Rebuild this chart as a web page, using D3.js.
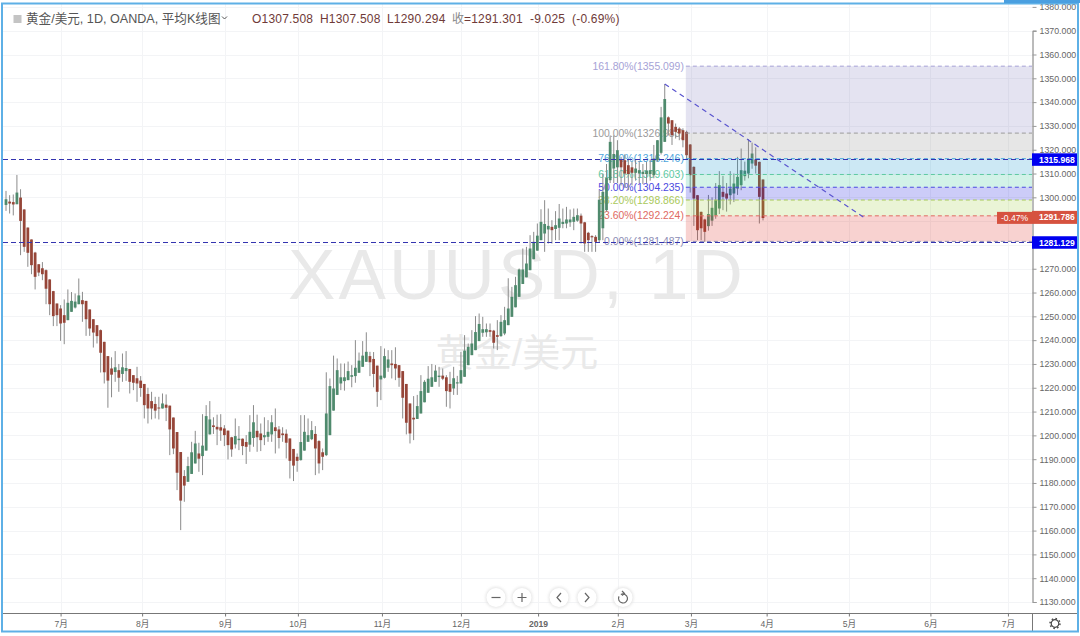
<!DOCTYPE html>
<html>
<head>
<meta charset="utf-8">
<script src="https://cdn.jsdelivr.net/npm/d3@7"></script>
<style>
  html, body { margin: 0; padding: 0; background: #fff; }
  svg { display: block; }
  text { font-family: "Liberation Sans", "Noto Sans CJK SC", sans-serif; }
</style>
</head>
<body>
<svg id="chart"></svg>
<script>
// daily candles (bar number = trading day)
var opens = [
  1296.8,1298.2,1298.0,1297.1,1299.9,1294.9,1287.3,1282.3,1276.8,1271.9,
  1270.2,1269.4,1265.5,1260.6,1255.4,1253.3,1250.5,1248.4,1251.9,1253.7,
  1255.1,1256.8,1256.5,1252.9,1248.8,1246.3,1244.2,1239.3,1233.3,1228.1,
  1226.6,1227.4,1225.8,1227.0,1227.9,1225.3,1224.0,1223.0,1221.6,1217.4,
  1214.4,1213.2,1211.7,1211.3,1212.9,1212.5,1207.5,1201.4,1193.0,1182.9,
  1180.5,1183.8,1188.2,1192.4,1191.3,1193.6,1200.4,1204.2,1203.6,1203.4,
  1202.9,1202.0,1199.2,1196.2,1198.0,1198.6,1197.2,1196.1,1198.9,1201.9,
  1200.8,1199.2,1199.4,1200.4,1203.4,1202.5,1200.8,1200.7,1198.7,1194.3,
  1191.0,1189.6,1193.6,1197.3,1198.4,1200.6,1197.6,1192.9,1191.7,1200.1,
  1210.4,1217.0,1221.8,1222.8,1223.2,1224.6,1224.9,1226.3,1228.8,1230.9,
  1233.3,1232.1,1229.3,1223.5,1224.2,1228.4,1230.2,1230.0,1229.5,1227.0,
  1221.6,1213.4,1207.4,1206.9,1209.2,1213.9,1217.9,1220.4,1222.5,1224.5,
  1225.1,1224.4,1221.6,1219.7,1221.8,1221.8,1224.6,1229.5,1233.7,1235.8,
  1239.6,1243.1,1243.3,1244.2,1244.0,1242.1,1241.7,1242.8,1246.3,1249.8,
  1253.8,1258.2,1263.6,1266.4,1269.4,1274.0,1277.6,1282.0,1284.8,1286.5,
  1287.6,1286.7,1287.2,1288.8,1289.0,1289.5,1289.7,1290.2,1292.3,1289.5,
  1285.1,1283.7,1283.4,1282.0,1287.0,1294.6,1307.2,1312.1,1312.6,1315.9,
  1315.6,1313.5,1312.6,1310.3,1310.0,1309.8,1309.8,1309.8,1309.3,1315.6,
  1318.7,1323.3,1333.6,1332.4,1329.6,1328.9,1328.2,1327.5,1322.2,1312.8,
  1300.9,1293.9,1290.7,1287.9,1290.2,1292.5,1295.3,1302.3,1301.6,1300.9,
  1301.6,1303.7,1305.1,1308.9,1310.0,1314.2,1315.9,1314.9,1307.5];

var highs = [
  1302.7,1300.9,1301.2,1309.4,1303.4,1295.0,1287.3,1282.3,1277.1,1271.9,
  1272.8,1269.7,1265.6,1260.7,1255.4,1254.7,1257.1,1261.3,1260.2,1259.6,
  1265.9,1260.3,1256.5,1252.9,1248.8,1246.3,1244.5,1239.3,1233.3,1232.8,
  1235.4,1230.0,1234.4,1235.4,1227.9,1225.3,1228.8,1224.9,1221.6,1220.0,
  1218.3,1216.2,1216.2,1217.6,1217.2,1212.5,1207.5,1201.4,1193.0,1185.4,
  1191.0,1197.3,1201.9,1196.9,1208.9,1212.7,1214.4,1207.6,1208.7,1208.9,
  1204.3,1202.0,1199.4,1207.1,1203.9,1198.7,1200.1,1208.5,1212.7,1208.7,
  1205.0,1207.6,1206.4,1208.5,1211.3,1203.9,1203.4,1202.5,1198.7,1194.3,
  1192.4,1208.5,1208.5,1207.1,1206.0,1203.9,1198.0,1194.5,1226.5,1223.9,
  1233.5,1232.3,1230.2,1230.2,1231.0,1229.5,1240.0,1234.8,1239.6,1243.3,
  1235.1,1235.0,1229.3,1237.5,1236.5,1235.8,1235.8,1237.0,1229.5,1227.0,
  1221.6,1213.4,1216.5,1217.0,1225.3,1223.2,1229.1,1230.0,1229.5,1228.8,
  1228.1,1225.3,1226.7,1228.8,1225.0,1235.1,1242.1,1238.6,1244.2,1250.1,
  1251.2,1249.8,1247.0,1247.0,1244.3,1248.4,1250.5,1254.0,1266.0,1262.4,
  1266.6,1270.1,1278.5,1279.2,1284.1,1285.5,1289.0,1295.0,1298.8,1295.3,
  1290.4,1294.2,1297.2,1295.3,1296.0,1294.9,1295.3,1295.3,1293.2,1289.7,
  1285.5,1284.1,1284.1,1303.0,1310.0,1314.0,1326.0,1326.0,1324.0,1317.0,
  1318.0,1316.0,1315.0,1316.0,1315.0,1314.0,1315.0,1316.0,1322.0,1324.0,
  1338.0,1347.6,1334.0,1332.4,1331.0,1329.5,1329.0,1328.0,1322.4,1313.0,
  1301.0,1294.0,1291.0,1301.0,1300.0,1306.0,1311.0,1309.0,1306.0,1311.0,
  1310.0,1317.0,1320.5,1315.0,1324.5,1323.0,1321.0,1315.0,1307.5];

var lows = [
  1294.3,1293.2,1292.4,1297.1,1275.7,1277.1,1270.8,1267.7,1261.3,1266.9,
  1265.2,1255.1,1250.5,1245.9,1245.9,1239.7,1238.3,1248.4,1251.9,1253.3,
  1255.1,1247.7,1241.8,1241.8,1236.9,1238.6,1226.4,1221.8,1211.6,1216.0,
  1222.5,1218.3,1222.5,1222.9,1217.6,1219.0,1214.1,1216.2,1207.1,1205.0,
  1206.7,1207.1,1206.7,1211.3,1206.0,1191.7,1192.1,1177.0,1160.2,1172.1,
  1180.5,1183.8,1188.2,1184.7,1183.3,1193.6,1200.4,1200.6,1195.9,1197.7,
  1195.5,1189.9,1191.0,1194.5,1193.8,1191.7,1188.0,1193.1,1195.2,1193.1,
  1193.4,1195.9,1197.3,1197.3,1192.4,1194.5,1197.3,1190.3,1181.9,1180.8,
  1184.7,1189.4,1193.6,1197.3,1198.0,1183.3,1184.0,1185.4,1191.3,1200.1,
  1210.4,1217.0,1219.0,1218.8,1223.2,1220.2,1222.1,1226.3,1228.8,1230.9,
  1224.9,1220.2,1212.0,1214.8,1223.9,1226.7,1223.9,1223.2,1220.4,1207.1,
  1200.4,1196.6,1198.0,1206.9,1209.2,1213.9,1217.9,1220.4,1222.5,1220.4,
  1223.2,1212.0,1211.3,1217.0,1217.0,1221.8,1224.6,1229.5,1233.7,1235.8,
  1239.6,1241.4,1241.4,1241.4,1236.5,1235.8,1241.4,1242.1,1246.3,1249.8,
  1253.8,1258.2,1263.6,1266.4,1269.4,1274.0,1277.6,1282.0,1277.1,1280.6,
  1280.6,1282.0,1282.0,1287.0,1287.0,1287.6,1286.2,1289.7,1280.6,1277.1,
  1277.1,1277.1,1277.1,1281.0,1282.0,1294.0,1306.0,1306.0,1306.0,1305.0,
  1304.0,1303.0,1305.0,1307.0,1306.0,1305.6,1306.0,1307.0,1308.0,1315.0,
  1318.0,1323.3,1326.0,1322.0,1324.7,1324.0,1321.0,1316.0,1302.0,1288.0,
  1282.0,1282.0,1281.2,1286.0,1288.0,1291.0,1293.0,1294.6,1294.0,1297.0,
  1298.0,1301.0,1303.0,1307.0,1308.0,1312.0,1310.0,1289.0,1290.3];

var closes = [
  1299.2,1297.4,1297.0,1302.0,1290.1,1279.2,1276.7,1271.5,1266.6,1268.4,
  1267.7,1261.6,1255.1,1250.1,1250.5,1247.0,1247.3,1255.7,1256.5,1256.2,
  1258.8,1255.1,1248.8,1244.9,1243.2,1241.7,1234.7,1226.5,1223.0,1225.5,
  1228.6,1224.2,1228.6,1228.3,1222.5,1222.1,1221.8,1219.9,1212.7,1211.3,
  1211.3,1210.4,1211.5,1213.4,1211.6,1202.5,1194.5,1184.3,1172.6,1178.9,
  1187.1,1192.9,1196.6,1190.2,1195.7,1208.1,1206.7,1203.5,1202.5,1202.0,
  1200.1,1195.9,1194.1,1199.7,1198.6,1195.5,1195.2,1201.5,1205.5,1199.2,
  1198.0,1200.1,1201.5,1205.5,1201.8,1198.9,1200.1,1196.9,1189.3,1187.3,
  1189.3,1197.2,1201.5,1200.1,1202.2,1194.5,1188.2,1191.0,1209.2,1220.7,
  1219.7,1227.4,1224.4,1224.4,1227.0,1225.3,1228.4,1231.4,1233.5,1235.1,
  1230.7,1225.8,1218.3,1225.1,1233.3,1231.9,1229.5,1228.1,1224.2,1215.8,
  1205.3,1200.8,1206.7,1212.3,1218.6,1222.5,1223.8,1224.4,1227.2,1225.1,
  1223.8,1218.6,1218.3,1224.0,1222.3,1227.4,1235.6,1237.2,1238.6,1243.4,
  1246.8,1244.6,1244.6,1243.5,1238.9,1241.4,1247.7,1248.4,1253.3,1258.2,
  1263.1,1269.7,1269.7,1272.2,1278.5,1281.3,1283.9,1289.7,1288.8,1288.0,
  1286.2,1288.3,1291.1,1289.7,1290.7,1290.7,1291.8,1292.5,1289.0,1280.6,
  1282.0,1283.2,1281.3,1299.0,1302.3,1308.1,1323.3,1318.2,1319.8,1312.6,
  1310.0,1309.8,1310.3,1312.1,1311.4,1310.7,1311.2,1311.4,1316.3,1324.0,
  1333.6,1341.3,1331.0,1326.1,1327.5,1326.8,1324.0,1317.7,1309.3,1299.5,
  1286.2,1287.0,1285.5,1293.0,1295.6,1298.8,1305.1,1300.2,1299.5,1303.7,
  1305.8,1308.6,1311.4,1311.2,1316.3,1318.4,1313.3,1300.2,1291.3];

// axis labels (1280 and 1290 are hidden behind the price tags in the original)
var priceTicks = d3.range(1130, 1381, 10);
var priceLabels = priceTicks.filter(function(d) { return d !== 1280 && d !== 1290; });
var monthLabels = ["7月", "8月", "9月", "10月", "11月", "12月", "2019", "2月", "3月", "4月", "5月", "6月", "7月"];
var monthBars = [15, 37.4, 60.2, 80.2, 103.3, 125, 146.2, 168.1, 188.2, 209, 231.6, 254, 275.3];

// fibonacci retracement
var fibRatios = ["161.80%", "100.00%", "76.40%", "61.80%", "50.00%", "38.20%", "23.60%", "0.00%"];
var fibPrices = [1355.099, 1326.983, 1316.246, 1309.603, 1304.235, 1298.866, 1292.224, 1281.487];
var fibColors = ["#a6a2d6", "#9a9a9a", "#4ea6dc", "#5ec9a2", "#4a4ae0", "#a9c95a", "#e06a62", "#8c8cb4"];
var fibFills = ["rgba(120,115,185,0.2)", "rgba(128,128,128,0.2)", "rgba(0,140,200,0.2)", "rgba(30,190,140,0.2)",
  "rgba(0,0,220,0.2)", "rgba(150,200,50,0.2)", "rgba(220,30,20,0.2)"];
var fibStartBar = 186.8;

// drawn lines and price tags
var alertPrices = [1315.968, 1281.129];
var lastPrice = 1291.786;
var lastChange = "-0.47%";
var trendBars = [181, 236];
var trendPrices = [1347.6, 1291.3];

// header
var headerTitle = "黄金/美元, 1D, OANDA, 平均K线图";
var headerOHLC = [["O1307.508", 252], ["H1307.508", 320], ["L1290.294", 387]];

// set the dimensions of the graph
var width = 1080,
    height = 636,
    plotRight = 1032,
    plotBottom = 613;

var greenBody = "#4f8a6d", redBody = "#964538", wickColor = "#8b8b8b";

// set the ranges
var x = d3.scaleLinear().domain([0, 208]).range([6, 763]);
var y = d3.scaleLinear().domain([1130, 1370]).range([602, 30.7]);
var barW = (x(1) - x(0)) * 0.76;

var svg = d3.select("#chart").attr("width", width).attr("height", height);

// grid
var grid = svg.append("g").attr("stroke", "#f3f4f6").attr("stroke-width", 1);
grid.selectAll(".gy").data(priceTicks).enter().append("line")
    .attr("x1", 3).attr("x2", plotRight)
    .attr("y1", function(d) { return Math.round(y(d)) + 0.5; })
    .attr("y2", function(d) { return Math.round(y(d)) + 0.5; });
grid.selectAll(".gx").data(monthBars).enter().append("line")
    .attr("y1", 4).attr("y2", plotBottom)
    .attr("x1", function(d) { return Math.round(x(d)) + 0.5; })
    .attr("x2", function(d) { return Math.round(x(d)) + 0.5; });

// watermark
svg.append("text").attr("x", 517).attr("y", 299)
    .attr("text-anchor", "middle").attr("font-size", 71).attr("letter-spacing", 3.2)
    .attr("fill", "#e9e9e9").text("XAUUSD, 1D");
svg.append("text").attr("x", 517).attr("y", 366)
    .attr("text-anchor", "middle").attr("font-size", 38)
    .attr("fill", "#e9e9e9").text("黄金/美元");

// fib labels sit underneath the candles
svg.append("g").selectAll("text").data(fibPrices).enter().append("text")
    .attr("x", x(fibStartBar) - 2)
    .attr("y", function(d) { return y(d) + 3.5; })
    .attr("text-anchor", "end").attr("font-size", 10.4)
    .attr("fill", function(d, i) { return fibColors[i]; })
    .text(function(d, i) { return fibRatios[i] + "(" + d.toFixed(3) + ")"; });

// candles
var bars = d3.range(opens.length);
var candles = svg.append("g");
candles.selectAll(".wick").data(bars).enter().append("line")
    .attr("x1", function(i) { return x(i); })
    .attr("x2", function(i) { return x(i); })
    .attr("y1", function(i) { return y(highs[i]); })
    .attr("y2", function(i) { return y(lows[i]); })
    .attr("stroke", wickColor).attr("stroke-width", 1);
candles.selectAll(".body").data(bars).enter().append("rect")
    .attr("x", function(i) { return x(i) - barW / 2; })
    .attr("width", barW)
    .attr("y", function(i) { return y(Math.max(opens[i], closes[i])); })
    .attr("height", function(i) { return Math.max(1, Math.abs(y(opens[i]) - y(closes[i]))); })
    .attr("fill", function(i) { return closes[i] >= opens[i] ? greenBody : redBody; });

// fib bands go over the candles, they tint them
var fib = svg.append("g");
fib.selectAll("rect").data(fibFills).enter().append("rect")
    .attr("x", x(fibStartBar)).attr("width", plotRight - x(fibStartBar))
    .attr("y", function(d, i) { return y(fibPrices[i]); })
    .attr("height", function(d, i) { return y(fibPrices[i + 1]) - y(fibPrices[i]); })
    .attr("fill", function(d) { return d; });
fib.selectAll("line").data(fibPrices).enter().append("line")
    .attr("x1", x(fibStartBar)).attr("x2", plotRight)
    .attr("y1", function(d) { return y(d); }).attr("y2", function(d) { return y(d); })
    .attr("stroke", function(d, i) { return fibColors[i]; })
    .attr("stroke-dasharray", "4,3");

// drawn trend line and horizontal lines
svg.append("line")
    .attr("x1", x(trendBars[0])).attr("y1", y(trendPrices[0]))
    .attr("x2", x(trendBars[1])).attr("y2", y(trendPrices[1]))
    .attr("stroke", "#5a55cf").attr("stroke-width", 1.2).attr("stroke-dasharray", "5,4");
svg.append("g").selectAll("line").data(alertPrices).enter().append("line")
    .attr("x1", 3).attr("x2", plotRight)
    .attr("y1", function(d) { return Math.round(y(d)) + 0.5; })
    .attr("y2", function(d) { return Math.round(y(d)) + 0.5; })
    .attr("stroke", "#3434b0").attr("stroke-dasharray", "5,3");

// white strips behind the axes, then axes
svg.append("rect").attr("x", plotRight).attr("y", 0).attr("width", width - plotRight).attr("height", height).attr("fill", "#fff");
svg.append("rect").attr("x", 0).attr("y", plotBottom).attr("width", width).attr("height", height - plotBottom).attr("fill", "#fff");

var yAxis = svg.append("g")
    .attr("transform", "translate(" + (plotRight + 0.5) + ",0)")
    .call(d3.axisRight(y).tickValues(priceLabels).tickSize(4).tickPadding(3)
      .tickFormat(function(d) { return d.toFixed(3); }));
yAxis.select(".domain").attr("stroke", "#777");
yAxis.selectAll("line").attr("stroke", "#999");
yAxis.selectAll("text").attr("font-size", 8.8).attr("fill", "#666")
    .style("font-family", "'Liberation Sans', sans-serif");

var xAxis = svg.append("g")
    .attr("transform", "translate(0," + (plotBottom + 0.5) + ")")
    .call(d3.axisBottom(x).tickValues(monthBars).tickSize(3).tickPadding(4)
      .tickFormat(function(d, i) { return monthLabels[i]; }));
xAxis.select(".domain").remove();
xAxis.selectAll("line").attr("stroke", "#777");
xAxis.selectAll("text").attr("font-size", 8.6).attr("fill", "#666")
    .style("font-family", "'Liberation Sans', 'Noto Sans CJK SC', sans-serif")
    .attr("font-weight", function(d, i) { return monthLabels[i] === "2019" ? "bold" : "normal"; });
svg.append("line").attr("x1", 3).attr("x2", 1078).attr("y1", plotBottom + 0.5).attr("y2", plotBottom + 0.5).attr("stroke", "#777");
svg.append("line").attr("x1", plotRight + 0.5).attr("x2", plotRight + 0.5).attr("y1", plotBottom).attr("y2", 632).attr("stroke", "#777");

// price tags on the axis
var tags = svg.append("g");
tags.selectAll("rect").data(alertPrices).enter().append("rect")
    .attr("x", plotRight).attr("width", 46).attr("height", 12.5)
    .attr("y", function(d) { return y(d) - 6; })
    .attr("fill", "#0000f0");
tags.selectAll("text").data(alertPrices).enter().append("text")
    .attr("x", plotRight + 7).attr("y", function(d) { return y(d) + 3.3; })
    .attr("font-size", 8.6).attr("font-weight", "bold").attr("fill", "#fff")
    .text(function(d) { return d.toFixed(3); });
tags.append("rect").attr("x", 997).attr("y", y(lastPrice) - 5).attr("width", 35).attr("height", 12).attr("fill", "#d6523f");
tags.append("rect").attr("x", plotRight).attr("y", y(lastPrice) - 6).attr("width", 46).attr("height", 13).attr("fill", "#d6523f");
tags.append("text").attr("x", 1014.5).attr("y", y(lastPrice) + 4).attr("text-anchor", "middle")
    .attr("font-size", 8.6).attr("fill", "#fff").text(lastChange);
tags.append("text").attr("x", plotRight + 7).attr("y", y(lastPrice) + 3.6)
    .attr("font-size", 8.6).attr("font-weight", "bold").attr("fill", "#fff").text(lastPrice.toFixed(3));

// header
svg.append("rect").attr("x", 13.5).attr("y", 15).attr("width", 8).attr("height", 8).attr("fill", "#c4c4c4");
svg.append("text").attr("x", 26).attr("y", 23).attr("font-size", 12.6).attr("fill", "#555").text(headerTitle);
svg.append("path").attr("d", "M222,16.5l2.5,2.5l2.5,-2.5").attr("fill", "none").attr("stroke", "#555").attr("stroke-width", 1);
svg.append("g").selectAll("text").data(headerOHLC).enter().append("text")
    .attr("x", function(d) { return d[1]; }).attr("y", 23)
    .attr("font-size", 12).attr("letter-spacing", 0.2).attr("fill", "#6f3a38")
    .text(function(d) { return d[0]; });
svg.append("text").attr("x", 452).attr("y", 23).attr("font-size", 12).attr("fill", "#888").text("收");
svg.append("text").attr("x", 464).attr("y", 23).attr("font-size", 12).attr("letter-spacing", 0.2).attr("fill", "#6f3a38").text("=1291.301");
svg.append("text").attr("x", 530).attr("y", 23).attr("font-size", 12).attr("letter-spacing", 0.2).attr("fill", "#6f3a38").text("-9.025");
svg.append("text").attr("x", 572).attr("y", 23).attr("font-size", 12).attr("letter-spacing", 0.2).attr("fill", "#6f3a38").text("(-0.69%)");

// zoom buttons
var shadow = svg.append("defs").append("filter").attr("id", "soft")
    .attr("x", "-50%").attr("y", "-50%").attr("width", "200%").attr("height", "200%");
shadow.append("feGaussianBlur").attr("stdDeviation", 1.6);
var buttons = [496, 522, 559, 587, 623];
svg.append("g").selectAll("circle").data(buttons).enter().append("circle")
    .attr("cx", function(d) { return d; }).attr("cy", 597.5).attr("r", 10.5)
    .attr("fill", "#e4e4e4").attr("filter", "url(#soft)");
svg.append("g").selectAll("circle").data(buttons).enter().append("circle")
    .attr("cx", function(d) { return d; }).attr("cy", 597.5).attr("r", 9.5)
    .attr("fill", "#fff");
var glyphs = svg.append("g").attr("fill", "none").attr("stroke", "#666").attr("stroke-width", 1.2);
glyphs.append("path").attr("d", "M491.5,597.5h9");
glyphs.append("path").attr("d", "M517.5,597.5h9M522,593v9");
glyphs.append("path").attr("d", "M561,593l-4,4.5l4,4.5");
glyphs.append("path").attr("d", "M585,593l4,4.5l-4,4.5");
glyphs.append("path").attr("d", d3.arc().innerRadius(4.5).outerRadius(4.5).startAngle(-0.5).endAngle(5.2)())
    .attr("transform", "translate(623,598.5)");
glyphs.append("path").attr("d", "M622,591l2.5,2.5l-2.5,2");

// settings gear
var gear = svg.append("g").attr("transform", "translate(1055,623.5)").attr("fill", "none").attr("stroke", "#444");
gear.append("circle").attr("r", 3.8).attr("stroke-width", 1.2);
gear.append("circle").attr("r", 5).attr("stroke-width", 1.4).attr("stroke-dasharray", "1.6,2.3");

// blue frame
svg.append("rect").attr("x", 2).attr("y", 3.5).attr("width", 1076).attr("height", 628)
    .attr("fill", "none").attr("stroke", "#5eb0e6").attr("stroke-width", 2);
svg.append("rect").attr("x", 1004).attr("y", 0).attr("width", 76).attr("height", 3).attr("fill", "#4a9fe0");
</script>
</body>
</html>
